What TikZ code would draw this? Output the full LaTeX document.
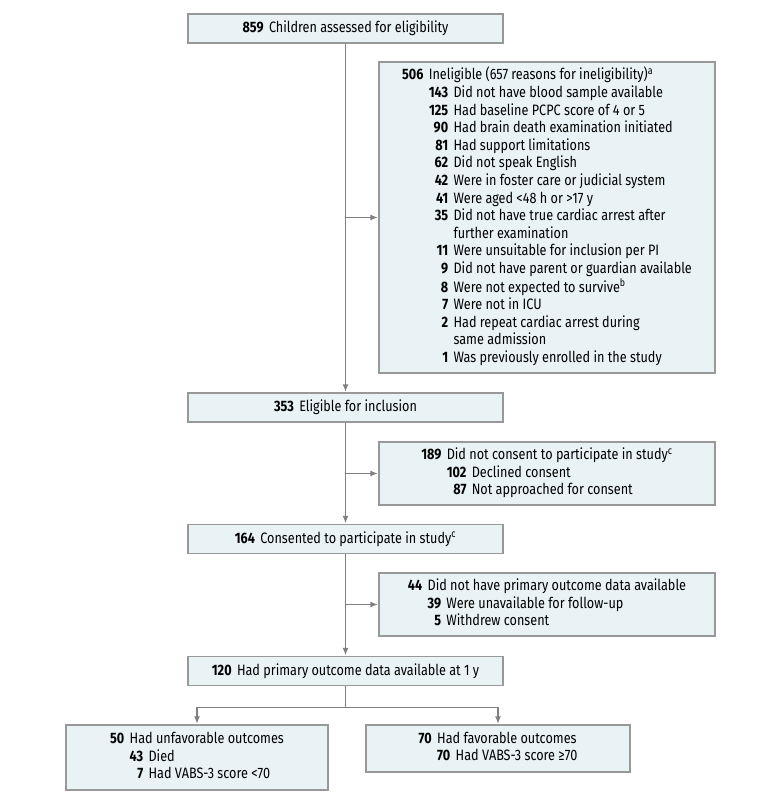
\documentclass[tikz,border=0pt]{standalone}
\usepackage{fontspec}
\setmainfont{Fira Sans}[FakeStretch=0.84]
\usepackage{array}
\usetikzlibrary{positioning,arrows.meta,calc}

\definecolor{boxfill}{RGB}{233,242,245}
\definecolor{boxline}{RGB}{152,152,152}
\definecolor{flowline}{RGB}{128,128,128}

\newcommand{\cnt}[1]{\textbf{#1}}

\tikzset{
  flowbox/.style={draw=boxline, line width=1.1pt, fill=boxfill, inner sep=0pt,
    font=\fontsize{11.3}{13.2}\selectfont},
  mainbox/.style={flowbox, minimum width=236.25pt, minimum height=21.75pt},
  sidebox/.style={flowbox, minimum width=252pt},
  flow/.style={draw=flowline, line width=0.9pt},
  flowarr/.style={flow, -{Latex[length=5.5pt,width=4.5pt]}, shorten >=0.4pt}
}

\begin{document}
\begin{tikzpicture}[x=0.75pt, y=-0.75pt]
\useasboundingbox (0,0) rectangle (780,802);
%
% main column
\node[mainbox] (assessed) at (345.5,28.5)
  {\cnt{859}\hspace{4pt}Children assessed for eligibility};
\node[mainbox] (eligible) at (345.5,407.5)
  {\cnt{353}\hspace{4pt}Eligible for inclusion};
\node[mainbox] (consented) at (345.5,539)
  {\cnt{164}\hspace{4pt}Consented to participate in study\textsuperscript{c}};
\node[mainbox] (outcome) at (345.5,671)
  {\cnt{120}\hspace{4pt}Had primary outcome data available at 1 y};
%
% exclusions
\node[sidebox, minimum height=233.25pt] (inelig) at (547,217.5) {%
  \begin{tabular}{@{}r@{\hspace{4pt}}r@{\hspace{4pt}}l@{}}
  \cnt{506} & \multicolumn{2}{@{}l@{}}{Ineligible (657 reasons for ineligibility)\textsuperscript{a}}\\
  & \cnt{143} & Did not have blood sample available\\
  & \cnt{125} & Had baseline PCPC score of 4 or 5\\
  & \cnt{90} & Had brain death examination initiated\\
  & \cnt{81} & Had support limitations\\
  & \cnt{62} & Did not speak English\\
  & \cnt{42} & Were in foster care or judicial system\\
  & \cnt{41} & Were aged <48 h or >17 y\\
  & \cnt{35} & Did not have true cardiac arrest after\\
  & & further examination\\
  & \cnt{11} & Were unsuitable for inclusion per PI\\
  & \cnt{9} & Did not have parent or guardian available\\
  & \cnt{8} & Were not expected to survive\textsuperscript{b}\\
  & \cnt{7} & Were not in ICU\\
  & \cnt{2} & Had repeat cardiac arrest during\\
  & & same admission\\
  & \cnt{1} & Was previously enrolled in the study
  \end{tabular}};
\node[sidebox, minimum height=47.25pt] (nocons) at (547,473.5) {%
  \begin{tabular}{@{}r@{\hspace{4pt}}r@{\hspace{4pt}}l@{}}
  \cnt{189} & \multicolumn{2}{@{}l@{}}{Did not consent to participate in study\textsuperscript{c}}\\
  & \cnt{102} & Declined consent\\
  & \cnt{87} & Not approached for consent
  \end{tabular}};
\node[sidebox, minimum height=47.25pt] (nodata) at (547,604.5) {%
  \begin{tabular}{@{}r@{\hspace{4pt}}r@{\hspace{4pt}}l@{}}
  \cnt{44} & \multicolumn{2}{@{}l@{}}{Did not have primary outcome data available}\\
  & \cnt{39} & Were unavailable for follow-up\\
  & \cnt{5} & Withdrew consent
  \end{tabular}};
%
% outcomes
\node[flowbox, minimum width=196.5pt, minimum height=48.75pt] (unfav) at (197,757.5) {%
  \begin{tabular}{@{}r@{\hspace{4pt}}r@{\hspace{4pt}}l@{}}
  \cnt{50} & \multicolumn{2}{@{}l@{}}{Had unfavorable outcomes}\\
  & \cnt{43} & Died\\
  & \cnt{7} & Had VABS-3 score <70
  \end{tabular}};
\node[flowbox, minimum width=198pt, minimum height=35.25pt] (fav) at (498,748.5) {%
  \begin{tabular}{@{}r@{\hspace{4pt}}r@{\hspace{4pt}}l@{}}
  \cnt{70} & \multicolumn{2}{@{}l@{}}{Had favorable outcomes}\\
  & \cnt{70} & Had VABS-3 score ≥70
  \end{tabular}};
%
% connectors
\draw[flowarr] (assessed) -- (eligible);
\draw[flowarr] (eligible) -- (consented);
\draw[flowarr] (consented) -- (outcome);
\coordinate (j1) at (assessed.south |- inelig.west);
\coordinate (j2) at (eligible.south |- nocons.west);
\coordinate (j3) at (consented.south |- nodata.west);
\draw[flowarr] (j1) -- (inelig.west);
\draw[flowarr] (j2) -- (nocons.west);
\draw[flowarr] (j3) -- (nodata.west);
%
\coordinate (split) at ($(outcome.south)+(0,21)$);
\draw[flow] (outcome.south) -- (split);
\draw[flowarr] (split) -| (unfav.north);
\draw[flowarr] (split) -| (fav.north);
\end{tikzpicture}
\end{document}
